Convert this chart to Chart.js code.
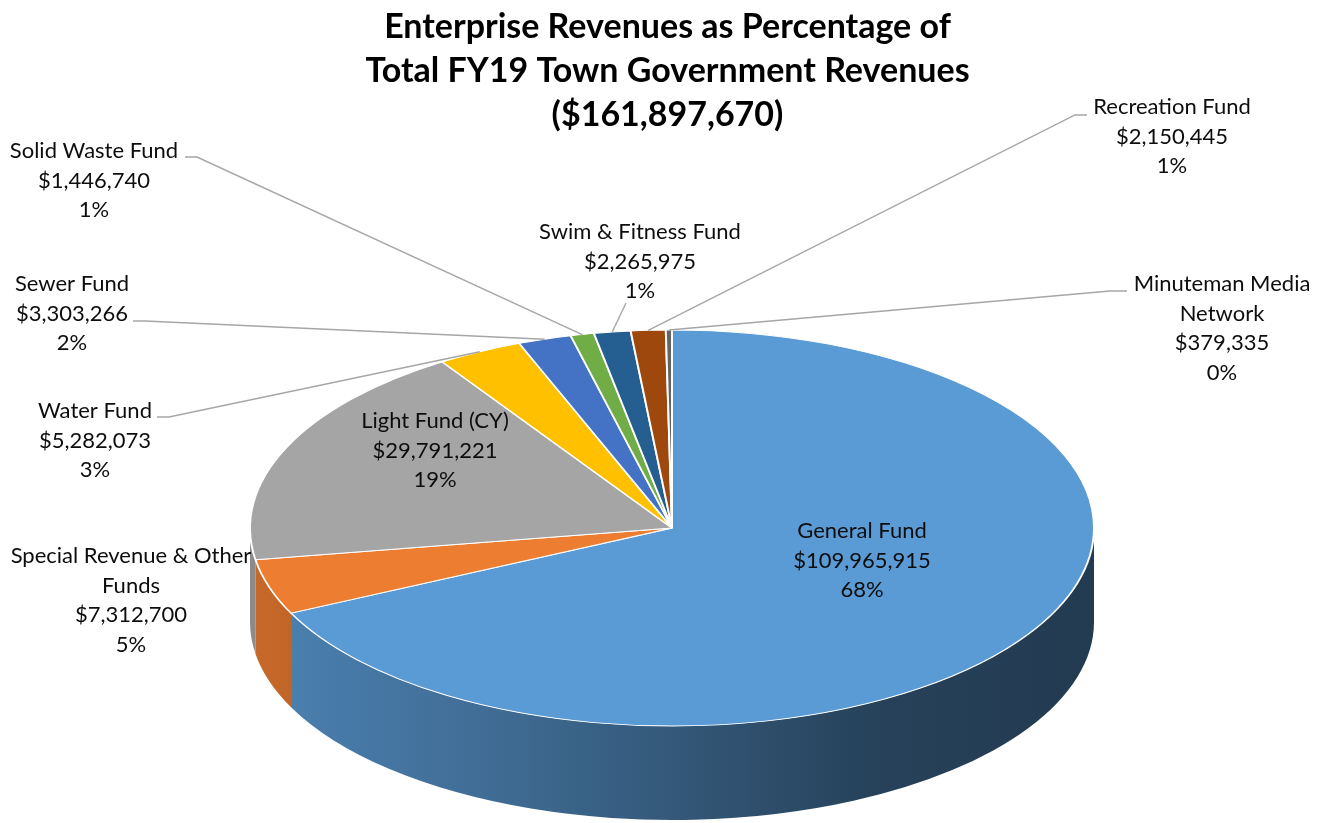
<!DOCTYPE html>
<html>
<head>
<meta charset="utf-8">
<title>Enterprise Revenues FY19</title>
<script src="https://cdn.jsdelivr.net/npm/chart.js@4/dist/chart.umd.min.js"></script>
<style>
    html, body { margin: 0; padding: 0; background: #fff; }
    #wrap { width: 1325px; height: 823px; position: relative; }
</style>
</head>
<body>
<div id="wrap"><canvas id="revenueChart"></canvas></div>
<script>
/* ===================================================
   FY19 Town Government Revenues – 3D-style pie
   =================================================== */

const titleLines = ['Enterprise Revenues as Percentage of', 'Total FY19 Town Government Revenues', '($161,897,670)'];
const categories = ['General Fund', 'Special Revenue & Other Funds', 'Light Fund (CY)', 'Water Fund', 'Sewer Fund',
    'Solid Waste Fund', 'Swim & Fitness Fund', 'Recreation Fund', 'Minuteman Media Network'];
const revenues = [109965915, 7312700, 29791221, 5282073, 3303266, 1446740, 2265975, 2150445, 379335];
const sliceColors = ['#5B9BD5', '#ED7D31', '#A5A5A5', '#FFC000', '#4472C4', '#70AD47', '#255E91', '#9E480E', '#636363'];

// ── Layout (screen px) ────────────────────────────────
const DISC = { cx: 672, cy: 528, rx: 422, ry: 198, depth: 94 };
const SIDE_SHADE = [[0, 0.84], [0.3, 0.69], [0.75, 0.42], [1, 0.38]];
const LABEL_FONT = '22px Lato';
const LINE_H = 29.7;

// label block centre (first line), wrap width, leader [textX, y, elbowX]
const labelSpots = [
    { x: 862, y: 531, wrap: 400 },
    { x: 131, y: 556, wrap: 262 },
    { x: 435, y: 421, wrap: 400 },
    { x: 95, y: 411, wrap: 400, leader: [157, 417, 169] },
    { x: 72, y: 284, wrap: 400, leader: [133, 321, 145] },
    { x: 94, y: 151, wrap: 400, leader: [185, 157, 197] },
    { x: 640, y: 232, wrap: 400, leader: [626, 303, 626] },
    { x: 1172, y: 107, wrap: 400, leader: [1087, 115, 1075] },
    { x: 1222, y: 284, wrap: 195, leader: [1127, 291, 1110] }
];

// Excel rounds pie percentages so they add up to 100 (largest remainder)
function excelPercents(vals) {
    const total = vals.reduce((s, v) => s + v, 0);
    const raw = vals.map(v => v / total * 100);
    const out = raw.map(Math.floor);
    const left = 100 - out.reduce((s, v) => s + v, 0);
    const order = raw.map((r, i) => i).sort((a, b) => (raw[b] - out[b]) - (raw[a] - out[a]));
    for (let k = 0; k < left; k++) out[order[k]]++;
    return out;
}
const percents = excelPercents(revenues);

function shade(hex, f) {
    const n = parseInt(hex.slice(1), 16);
    const r = Math.round(((n >> 16) & 255) * f), g = Math.round(((n >> 8) & 255) * f), b = Math.round((n & 255) * f);
    return `rgb(${r},${g},${b})`;
}

function wrapText(ctx, text, maxW) {
    const words = text.split(' ');
    const lines = [];
    let cur = '';
    words.forEach(w => {
        const test = cur ? cur + ' ' + w : w;
        if (cur && ctx.measureText(test).width > maxW) { lines.push(cur); cur = w; }
        else cur = test;
    });
    if (cur) lines.push(cur);
    return lines;
}

// ── Plugin: squash the pie into a disc and give it a side wall ──
const pie3d = {
    id: 'pie3d',
    beforeDatasetsDraw(chart) {
        const ctx = chart.ctx;
        const arcs = chart.getDatasetMeta(0).data;
        const { cx, cy, rx, ry, depth } = DISC;
        ctx.save();

        arcs.forEach((arc, i) => {
            const a1 = Math.max(arc.startAngle, 0);
            const a2 = Math.min(arc.endAngle, Math.PI);
            if (a2 <= a1) return;
            const g = ctx.createLinearGradient(cx - rx, 0, cx + rx, 0);
            SIDE_SHADE.forEach(([stop, f]) => g.addColorStop(stop, shade(sliceColors[i], f)));
            ctx.beginPath();
            ctx.ellipse(cx, cy, rx, ry, 0, a1, a2);
            ctx.ellipse(cx, cy + depth, rx, ry, 0, a2, a1, true);
            ctx.closePath();
            ctx.fillStyle = g;
            ctx.fill();
        });

        const a = arcs[0];
        ctx.translate(cx, cy);
        ctx.scale(rx / a.outerRadius, ry / a.outerRadius);
        ctx.translate(-a.x, -a.y);
    },
    afterDatasetsDraw(chart) {
        chart.ctx.restore();
    },
    afterDraw(chart) {
        const ctx = chart.ctx;
        const arcs = chart.getDatasetMeta(0).data;
        const { cx, cy, rx, ry } = DISC;
        ctx.save();
        ctx.font = LABEL_FONT;
        ctx.textAlign = 'center';
        ctx.textBaseline = 'middle';
        ctx.fillStyle = '#0D0D0D';
        ctx.strokeStyle = '#A6A6A6';
        ctx.lineWidth = 1.4;

        categories.forEach((name, i) => {
            const spot = labelSpots[i];
            const lines = wrapText(ctx, name, spot.wrap)
                .concat(['$' + revenues[i].toLocaleString('en-US'), percents[i] + '%']);
            lines.forEach((t, k) => ctx.fillText(t, spot.x, spot.y + k * LINE_H));

            if (spot.leader) {
                const arc = arcs[i];
                const mid = (arc.startAngle + arc.endAngle) / 2;
                const [lx, ly, ex] = spot.leader;
                ctx.beginPath();
                ctx.moveTo(lx, ly);
                ctx.lineTo(ex, ly);
                ctx.lineTo(cx + rx * Math.cos(mid), cy + ry * Math.sin(mid));
                ctx.stroke();
            }
        });
        ctx.restore();
    }
};

new Chart(document.getElementById('revenueChart'), {
    type: 'pie',
    data: {
        labels: categories,
        datasets: [{
            data: revenues,
            backgroundColor: sliceColors,
            borderColor: '#FFFFFF',
            borderWidth: 1.6,
            clip: false
        }]
    },
    options: {
        responsive: true,
        maintainAspectRatio: false,
        animation: false,
        events: [],
        layout: { padding: { left: 10 } },
        plugins: {
            legend: { display: false },
            tooltip: { enabled: false },
            title: {
                display: true,
                text: titleLines,
                color: '#000000',
                font: { family: 'Lato', size: 34, weight: 'bold', lineHeight: 1.3 },
                padding: { top: 5, bottom: 0 }
            }
        }
    },
    plugins: [pie3d]
});
</script>
</body>
</html>
